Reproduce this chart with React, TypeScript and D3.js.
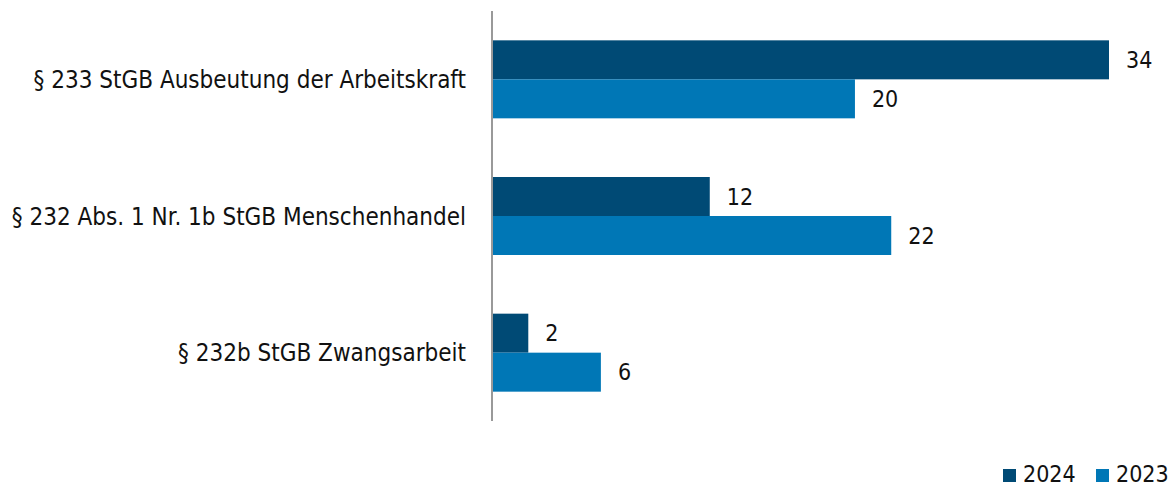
import React, { useEffect, useRef } from 'react';
import * as d3 from 'd3';

const categories = [
  '§ 233 StGB Ausbeutung der Arbeitskraft',
  '§ 232 Abs. 1 Nr. 1b StGB Menschenhandel',
  '§ 232b StGB Zwangsarbeit',
];
const series = ['2024', '2023'];
const values2024 = [34, 12, 2];
const values2023 = [20, 22, 6];
const colors = ['#004a75', '#0077b6'];

const FONT = '"DejaVu Sans Condensed", "Liberation Sans", sans-serif';

const App = () => {
  const ref = useRef<SVGSVGElement>(null);

  useEffect(() => {
    if (!ref.current) return;
    const svg = d3.select(ref.current);
    svg.selectAll('*').remove();

    const left = 492, top = 11, bottom = 421;

    const x = d3.scaleLinear().domain([0, 34]).range([left, 1109]);
    const y = d3.scaleBand().domain(categories).range([top, bottom]);
    const inner = d3.scaleBand().domain(series).range([0, 78]);
    const offset = (y.bandwidth() - 78) / 2;

    const data = categories.map((c, i) => ({ c, vals: [values2024[i], values2023[i]] }));

    const g = svg.append('g');
    data.forEach((d) => {
      d.vals.forEach((v, j) => {
        const by = (y(d.c) as number) + offset + (inner(series[j]) as number);
        g.append('rect')
          .attr('x', x(0))
          .attr('y', by)
          .attr('width', x(v) - x(0))
          .attr('height', inner.bandwidth())
          .attr('fill', colors[j]);
        g.append('text')
          .attr('x', x(v) + 17)
          .attr('y', by + inner.bandwidth() / 2)
          .attr('dy', '0.36em')
          .attr('font-family', FONT)
          .attr('font-size', 23)
          .attr('fill', '#111')
          .text(v);
      });
      g.append('text')
        .attr('x', 466)
        .attr('y', (y(d.c) as number) + y.bandwidth() / 2)
        .attr('dy', '0.36em')
        .attr('text-anchor', 'end')
        .attr('font-family', FONT)
        .attr('font-size', 24)
        .attr('fill', '#111')
        .text(d.c);
    });

    svg.append('line')
      .attr('x1', left).attr('x2', left)
      .attr('y1', top).attr('y2', bottom)
      .attr('stroke', '#999').attr('stroke-width', 2);

    const legendX = [1003, 1096];
    series.forEach((s, j) => {
      svg.append('rect')
        .attr('x', legendX[j]).attr('y', 469)
        .attr('width', 13).attr('height', 13)
        .attr('fill', colors[j]);
      svg.append('text')
        .attr('x', legendX[j] + 20)
        .attr('y', 474)
        .attr('dy', '0.36em')
        .attr('font-family', FONT)
        .attr('font-size', 23)
        .attr('fill', '#111')
        .text(s);
    });
  }, []);

  return (
    <div style={{ position: 'fixed', left: 0, top: 0 }}>
      <svg ref={ref} width={1176} height={486} style={{ display: 'block', background: '#fff' }} />
    </div>
  );
};

export default App;
